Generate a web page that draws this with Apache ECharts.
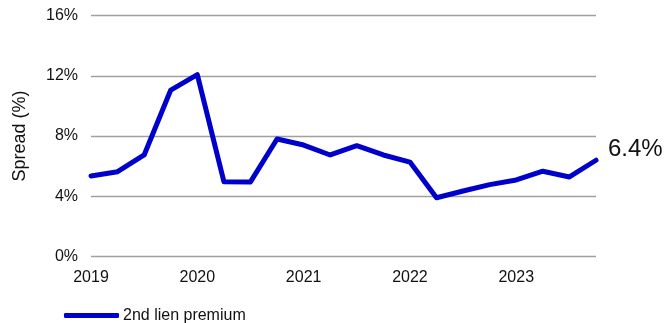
<!DOCTYPE html>
<html><head><meta charset="utf-8">
<script src="https://cdn.jsdelivr.net/npm/echarts@6/dist/echarts.min.js"></script>
<style>html,body{margin:0;padding:0;background:#fff}#c{width:666px;height:323px}</style>
</head><body><div id="c"></div>
<script>
const categories = ['2019Q1','2019Q2','2019Q3','2019Q4','2020Q1','2020Q2','2020Q3','2020Q4','2021Q1','2021Q2','2021Q3','2021Q4','2022Q1','2022Q2','2022Q3','2022Q4','2023Q1','2023Q2','2023Q3','2023Q4'];
const secondLienPremium = [5.35,5.63,6.74,11.05,12.07,4.97,4.95,7.8,7.4,6.74,7.36,6.74,6.27,3.9,4.35,4.77,5.08,5.66,5.28,6.39];
const yTicks = [0,4,8,12,16];
const seriesName = '2nd lien premium';

const chart = echarts.init(document.getElementById('c'), null, {renderer:'canvas'});
const font = 'Arial, "Liberation Sans", sans-serif';
chart.setOption({
  animation:false,
  textStyle:{fontFamily:font},
  grid:{left:91,right:70,top:15.5,bottom:66.5,containLabel:false},
  legend:{
    show:true, left:64, top:307.5, padding:0, itemWidth:55, itemHeight:5, itemGap:10,
    icon:'roundRect',
    textStyle:{fontFamily:font,fontSize:16,color:'#111',padding:[0,0,0,-1]},
    data:[{name:seriesName, icon:'roundRect', itemStyle:{color:'#0000CC'}}]
  },
  xAxis:{
    type:'category', data:categories, boundaryGap:false,
    axisLine:{show:false}, axisTick:{show:false},
    axisLabel:{
      interval:3, margin:13, fontSize:16, color:'#111', fontFamily:font,
      formatter:(v)=>v.slice(0,4)
    },
    splitLine:{show:false}
  },
  yAxis:{
    type:'value', min:yTicks[0], max:yTicks[yTicks.length-1], interval:4,
    name:'Spread (%)', nameLocation:'middle', nameGap:62, nameRotate:90,
    nameTextStyle:{fontSize:18,color:'#111',fontFamily:font},
    axisLine:{show:false}, axisTick:{show:false},
    axisLabel:{formatter:'{value}%', margin:13, fontSize:16, color:'#111', fontFamily:font, padding:[3,0,0,0]},
    splitLine:{lineStyle:{color:'#a0a0a0',width:1.3}}
  },
  series:[{
    name:seriesName, type:'line', data:secondLienPremium,
    symbol:'none', smooth:false,
    lineStyle:{color:'#0000CC',width:5,join:'round',cap:'round'},
    itemStyle:{color:'#0000CC'},
    endLabel:{show:true, distance:12, offset:[0,-11], fontSize:24, color:'#111', fontFamily:font,
      formatter:(p)=>p.value.toFixed(1)+'%'}
  }]
});
</script></body></html>
